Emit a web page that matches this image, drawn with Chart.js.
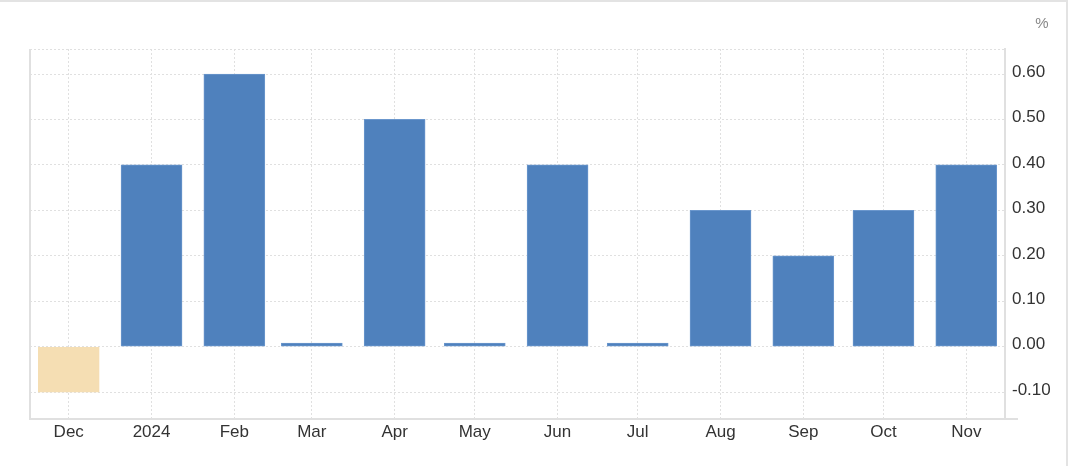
<!DOCTYPE html>
<html>
<head>
<meta charset="utf-8">
<script src="https://cdn.jsdelivr.net/npm/chart.js@4"></script>
<style>
  html, body { margin: 0; padding: 0; background: #fff; }
  #wrap { position: relative; width: 1072px; height: 466px; }
  #frame { position: absolute; left: 0; top: 0; width: 1068px; height: 466px; border-top: 2px solid #e3e3e3; border-right: 2px solid #e3e3e3; box-sizing: border-box; pointer-events: none; }
  canvas { display: block; }
</style>
</head>
<body>
<div id="wrap">
  <canvas id="c" width="1072" height="466"></canvas>
  <div id="frame"></div>
</div>
<script>
// ---- data ----
const monthDates = ['2023-12-01','2024-01-01','2024-02-01','2024-03-01','2024-04-01','2024-05-01','2024-06-01','2024-07-01','2024-08-01','2024-09-01','2024-10-01','2024-11-01'];
const monthLabels = ['Dec','2024','Feb','Mar','Apr','May','Jun','Jul','Aug','Sep','Oct','Nov'];
const values = [-0.1, 0.4, 0.6, 0.008, 0.5, 0.008, 0.4, 0.008, 0.3, 0.2, 0.3, 0.4];
const yTicks = [-0.1, 0, 0.1, 0.2, 0.3, 0.4, 0.5, 0.6];
const unitLabel = '%';

const base = Date.parse(monthDates[0]);
const dayPos = monthDates.map(d => (Date.parse(d) - base) / 86400000);

const BLUE = '#4f81bd';
const TAN = '#f5deb3';

const framePlugin = {
  id: 'framePlugin',
  beforeDatasetsDraw(chart) {
    const { ctx, chartArea: a } = chart;
    ctx.save();
    ctx.strokeStyle = '#e0e0e0';
    ctx.lineWidth = 1;
    ctx.setLineDash([2, 2]);
    ctx.beginPath();
    ctx.moveTo(a.left, a.top + 0.5);
    ctx.lineTo(a.right, a.top + 0.5);
    ctx.stroke();
    ctx.setLineDash([]);
    ctx.strokeStyle = '#e0e0e0';
    ctx.lineWidth = 2;
    ctx.beginPath();
    ctx.moveTo(a.left, a.top);
    ctx.lineTo(a.left, a.bottom);
    ctx.stroke();
    ctx.beginPath();
    ctx.moveTo(a.left, a.bottom);
    ctx.lineTo(a.right + 13, a.bottom);
    ctx.stroke();
    ctx.restore();
  },
  afterDraw(chart) {
    const { ctx } = chart;
    ctx.save();
    ctx.fillStyle = '#888';
    ctx.font = '15px Arial, "Liberation Sans", sans-serif';
    ctx.textAlign = 'center';
    ctx.textBaseline = 'middle';
    ctx.fillText(unitLabel, 1042, 24);
    ctx.restore();
  }
};

new Chart(document.getElementById('c'), {
  type: 'bar',
  data: {
    datasets: [{
      data: values.map((v, i) => ({ x: dayPos[i], y: v })),
      backgroundColor: values.map(v => v < 0 ? TAN : BLUE),
      borderColor: values.map(v => v < 0 ? TAN : '#6b97cd'),
      borderWidth: 1,
      borderSkipped: false,
      barThickness: 61
    }]
  },
  options: {
    responsive: false,
    animation: false,
    events: [],
    layout: { padding: { left: 30, top: 49, right: 0, bottom: 0 } },
    plugins: { legend: { display: false }, tooltip: { enabled: false } },
    scales: {
      x: {
        type: 'linear',
        offset: false,
        min: -14.5,
        max: 350.5,
        afterBuildTicks(scale) { scale.ticks = dayPos.map(v => ({ value: v })); },
        afterFit(scale) { scale.height = 47; },
        ticks: {
          autoSkip: false,
          maxRotation: 0,
          padding: 3,
          color: '#333',
          font: { family: 'Arial, "Liberation Sans", sans-serif', size: 17 },
          callback(value) { const i = dayPos.indexOf(value); return i >= 0 ? monthLabels[i] : ''; }
        },
        grid: { offset: false, color: '#e0e0e0', drawTicks: false },
        border: { display: true, color: '#e0e0e0', width: 2, dash: [2, 2] }
      },
      y: {
        position: 'right',
        min: -0.159,
        max: 0.655,
        afterBuildTicks(scale) { scale.ticks = yTicks.map(v => ({ value: v })); },
        afterFit(scale) { scale.width = 67; },
        ticks: {
          padding: 7,
          labelOffset: -2,
          color: '#333',
          font: { family: 'Arial, "Liberation Sans", sans-serif', size: 17 },
          callback(value) { return value.toFixed(2); }
        },
        grid: { color: '#e0e0e0', drawTicks: false },
        border: { display: true, color: '#e0e0e0', width: 2, dash: [2, 2] }
      }
    }
  },
  plugins: [framePlugin]
});
</script>
</body>
</html>
